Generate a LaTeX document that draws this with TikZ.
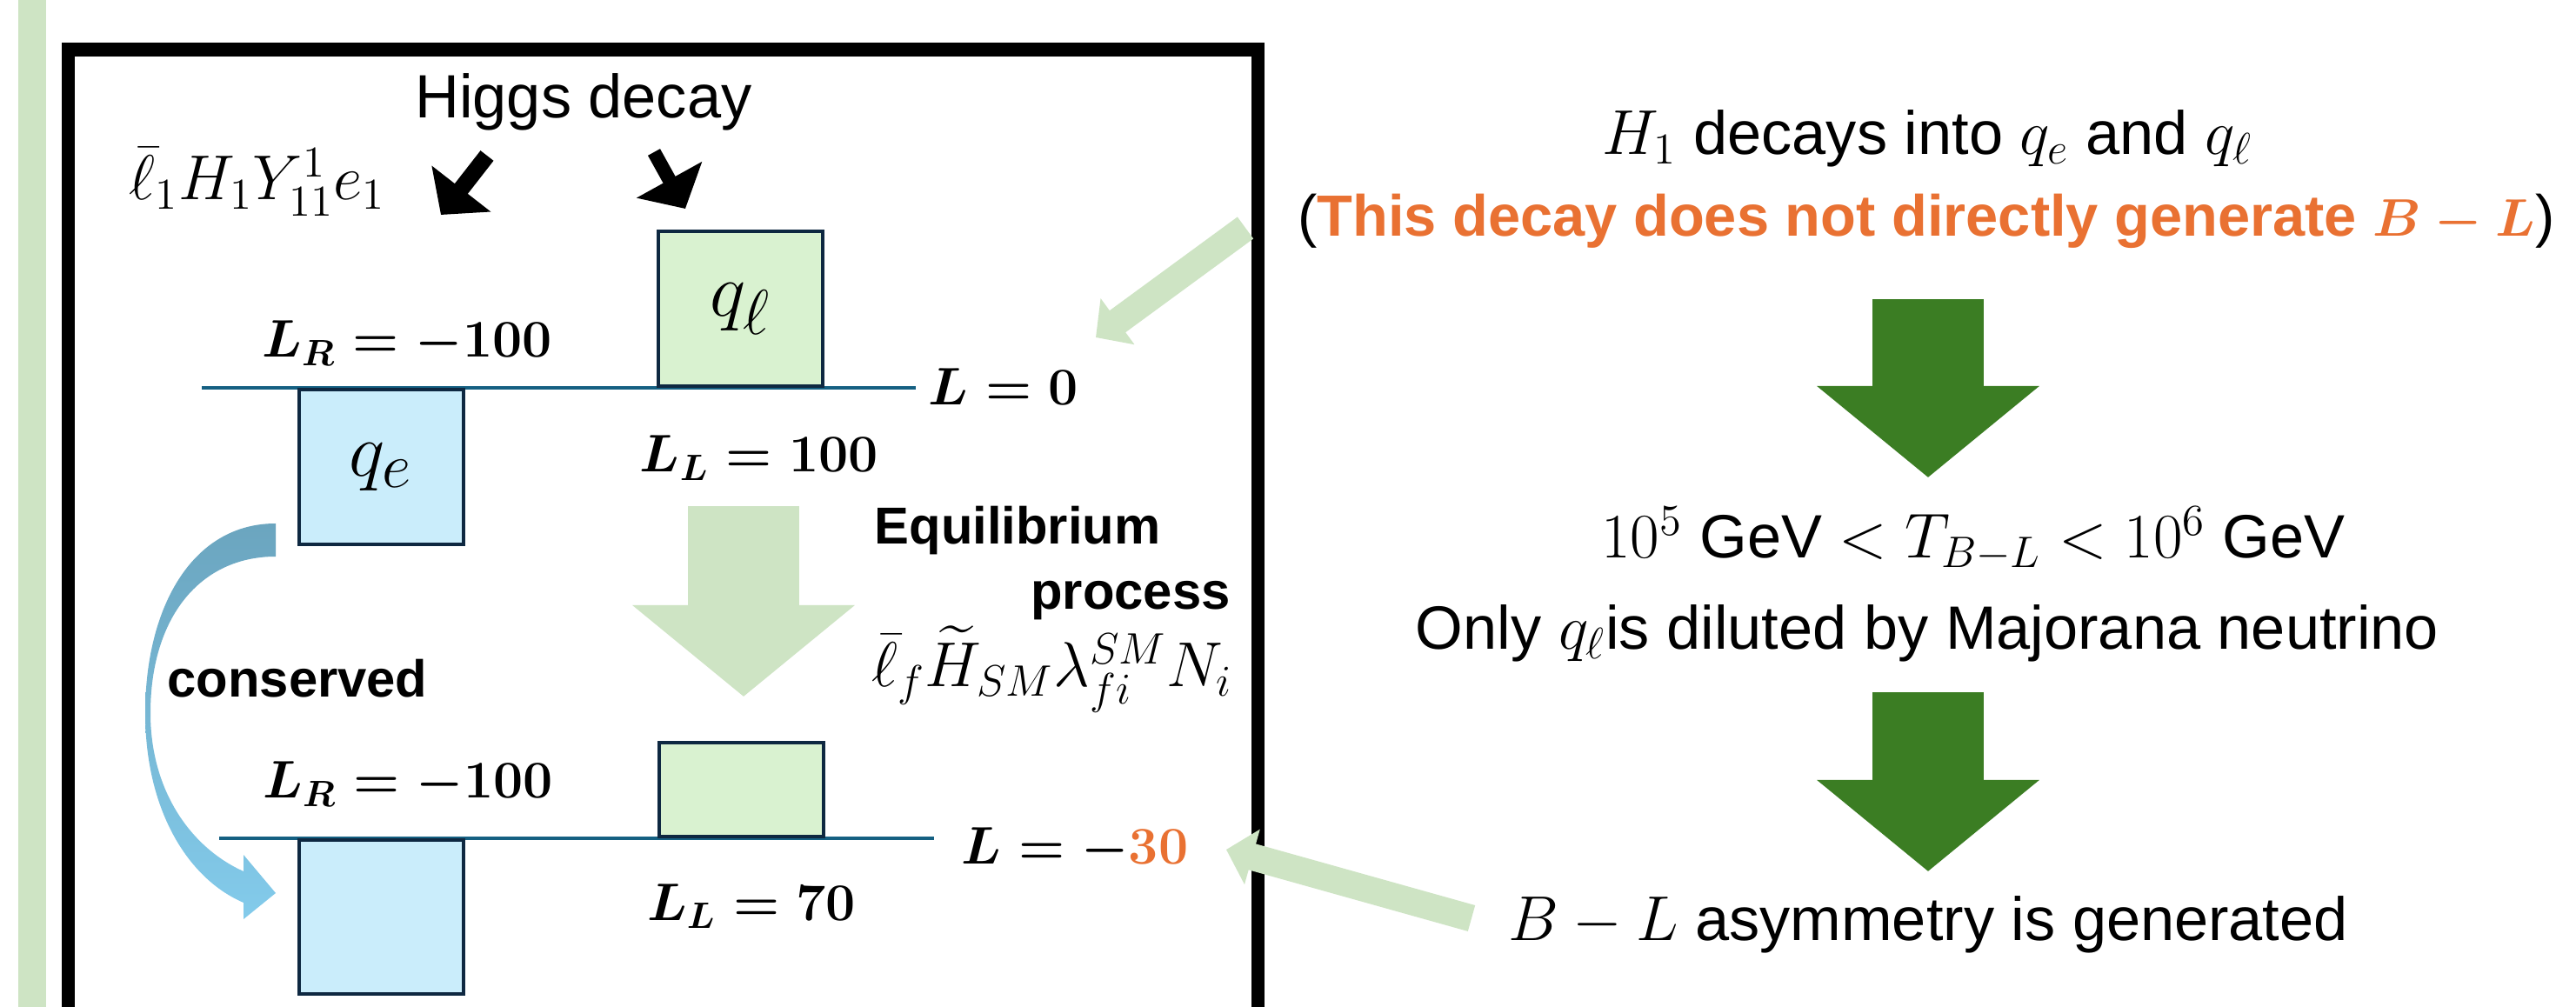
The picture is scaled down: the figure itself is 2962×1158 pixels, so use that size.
\documentclass[tikz,border=0pt]{standalone}
\usepackage[no-math]{fontspec}
\setmainfont{Liberation Sans}
\usepackage{amsmath,amssymb}
\usetikzlibrary{positioning,calc,arrows.meta}

\definecolor{leafgreen}{RGB}{206,228,196}
\definecolor{boxgreen}{RGB}{217,242,208}
\definecolor{boxblue}{RGB}{202,237,251}
\definecolor{boxline}{RGB}{14,40,65}
\definecolor{levelblue}{RGB}{21,96,130}
\definecolor{deepgreen}{RGB}{59,125,35}
\definecolor{hotorange}{RGB}{233,113,50}
\definecolor{curvetop}{RGB}{107,165,191}
\definecolor{curvebot}{RGB}{131,203,235}

\begin{document}
\begin{tikzpicture}[
		x=0.01cm, y=-0.01cm,
		txt/.style={font=\fontsize{20}{24}\selectfont, inner sep=0pt, anchor=base},
		btxt/.style={font=\fontsize{17}{20}\selectfont\bfseries, inner sep=0pt, anchor=base},
		lval/.style={font=\fontsize{18.5}{22}\selectfont\boldmath, inner sep=0pt, anchor=base},
		lbox/.style={draw=boxline, fill=boxgreen, line width=1pt, minimum width=1.89cm,
			minimum height=1.78cm, inner sep=0pt, font=\fontsize{32}{36}\selectfont},
		rbox/.style={lbox, fill=boxblue},
		energy/.style={draw=levelblue, line width=1.2pt},
		bigarrow/.style={draw=#1, line width=1.27cm, -{Triangle[length=1.05cm, width=2.5cm]}},
		pointer/.style={draw=leafgreen, line width=0.31cm, -{Triangle[length=0.31cm, width=0.64cm]}},
		kick/.style={draw=black, line width=#1, -{Triangle[length=0.38cm, width=0.84cm]}}
		]
		
		\useasboundingbox (0,0) rectangle (2962,1158);
		\fill[white] (0,0) rectangle (2962,1158);
		
		% -------------------------------------------------
		% Side bar and frame
		% -------------------------------------------------
		\fill[leafgreen] (21,0) rectangle (53,1158);
		\draw[line width=4.3pt] (78.5,1200) -- (78.5,57) -- (1446.5,57) -- (1446.5,1200);
		
		% -------------------------------------------------
		% Before: Higgs decay
		% -------------------------------------------------
		\node[txt] (higgs) at (671,136) {Higgs decay};
		\node[txt] (yukawa) at (296,230) {$\bar{\ell}_1 H_1 Y^1_{11} e_1$};
		
		\draw[energy] (232,446) -- (1053,446);
		\node[lbox, anchor=south west] (ql) at (755,446) {$q_\ell$};
		\node[rbox, anchor=north west] (qe) at (342,446) {$q_e$};
		
		\node[lval] (lr1) at (468,411) {$L_R = -100$};
		\node[lval] (ll1) at (873,543) {$L_L = 100$};
		\node[lval, anchor=base west] (ltot1) at (1067,466) {$L = 0$};
		
		\coordinate (kickA) at (560,179);
		\coordinate (kickAend) at (507,247);
		\coordinate (kickB) at (752,175);
		\coordinate (kickBend) at (788,240);
		\draw[kick=0.19cm] (kickA) -- (kickAend);
		\draw[kick=0.16cm] (kickB) -- (kickBend);
		
		% -------------------------------------------------
		% Equilibrium process
		% -------------------------------------------------
		\coordinate (eqtop) at (855,582);
		\coordinate (eqtip) at (855,801);
		\draw[bigarrow=leafgreen] (eqtop) -- (eqtip);
		\node[btxt] (equi) at (1170,626) {Equilibrium};
		\node[btxt] (proc) at (1300,701) {process};
		\node[txt] (washout) at (1210,790) {$\bar{\ell}_f \widetilde{H}_{SM} \lambda^{SM}_{fi} N_i$};
		
		% -------------------------------------------------
		% After
		% -------------------------------------------------
		\draw[energy] (252,964) -- (1074,964);
		\node[lbox, anchor=south west, minimum height=1.08cm] (ql2) at (756,964) {};
		\node[rbox, anchor=north west, minimum height=1.77cm] (qe2) at (342,964) {};
		
		\node[lval] (lr2) at (469,918) {$L_R = -100$};
		\node[lval] (ll2) at (864,1058) {$L_L = 70$};
		\node[lval, anchor=base west] (ltot2) at (1105,993) {$L = -{\color{hotorange}30}$};
		
		\node[btxt] (cons) at (342,801) {conserved};
		\shade[top color=curvetop, bottom color=curvebot]
		(317,602) .. controls (220,602) and (167,700) .. (167,820)
		.. controls (167,930) and (215,1010) .. (280,1038)
		-- (280,1057) -- (317,1027) -- (280,983) -- (280,1002)
		.. controls (220,975) and (173,910) .. (173,820)
		.. controls (173,710) and (230,640) .. (317,640) -- cycle;
		
		% -------------------------------------------------
		% Right column
		% -------------------------------------------------
		\node[txt] (decay) at (2216,178) {$H_1$ decays into $q_e$ and $q_\ell$};
		\node[txt, text=hotorange, font=\fontsize{19}{24}\selectfont\bfseries\boldmath] (nobl) at (2215,272)
		{{\mdseries\color{black}(}This decay does not directly generate $B-L${\mdseries\color{black})}};
		
		\coordinate (stepA) at (2217,344);
		\coordinate (stepAend) at (2217,549);
		\draw[bigarrow=deepgreen] (stepA) -- (stepAend);
		
		\node[txt] (temp) at (2269,642) {$10^5$ GeV $< T_{B-L} <$ $10^6$ GeV};
		\node[txt] (dilute) at (2216,747) {Only $q_\ell$is diluted by Majorana neutrino};
		
		\coordinate (stepB) at (2217,796);
		\coordinate (stepBend) at (2217,1002);
		\draw[bigarrow=deepgreen] (stepB) -- (stepBend);
		
		\node[txt] (asym) at (2217,1081) {$B-L$ asymmetry is generated};
		
		% pointers into the box
		\coordinate (ptrA) at (1432,262);
		\coordinate (ptrAend) at (1260,388);
		\draw[pointer] (ptrA) -- (ptrAend);
		\coordinate (ptrB) at (1692,1056);
		\coordinate (ptrBend) at (1410,977);
		\draw[pointer] (ptrB) -- (ptrBend);
		
	\end{tikzpicture}
\end{document}
